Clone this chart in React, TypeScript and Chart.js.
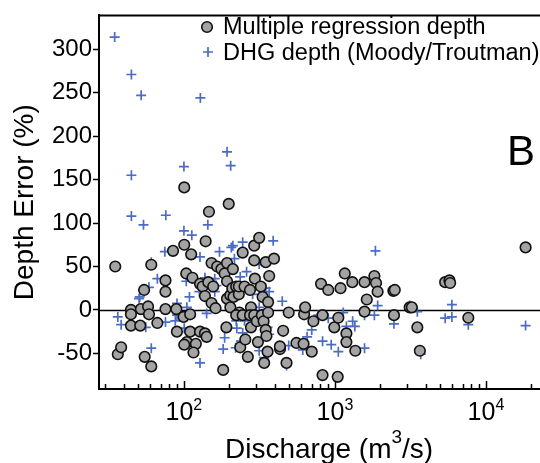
import React, { useEffect, useRef } from 'react';
import { Chart, registerables } from 'chart.js';

Chart.register(...registerables);

// ---- Data ----
const regDischarge = [
  35.1, 36.5, 38.4, 44.6, 44.6, 44.6, 51.9, 51.4, 54.5, 57.9, 58.7, 55, 60.8, 60.8, 66.7,
  75.5, 75.5, 75.5, 84.7, 89.1, 89.9, 100.5, 103.6, 100.5, 111.7, 113.9, 99.5, 110, 110, 104.6,
  100.5, 120, 115.7, 127.8, 133, 137.8, 127.8, 137.8, 141.4, 146.5, 139.3, 145, 156.3, 152.4, 152.4,
  162, 166, 177, 186, 193, 193, 198, 193, 203, 203, 191, 182, 211, 209, 213,
  222, 231, 231, 233, 222, 236, 245, 252, 255, 245, 265, 274, 278, 274, 278,
  292, 292, 295, 292, 304, 309, 315, 323, 332, 328, 337, 340, 348, 367, 361,
  361, 348, 352, 358, 395, 433, 432, 454, 478, 494, 556, 620, 625, 635, 702, 720,
  809, 828, 903, 828, 990, 1053, 1043, 1089, 1162, 1191, 1191, 1303, 1364, 1570, 1570,
  1625, 1825, 1872, 1917, 2437, 2490, 2460, 3125, 3230, 3512, 3650, 5368, 5730, 5790, 7640, 18300,
];
const regError = [
  50, -51, -43, 0, -5, -18, 1, -18, 23, 4, -5, -54, -65, 52, -15,
  34, 21, 1, 68, 1, -25, 75, 42, 141, 64, 37, -8, -5, -25, -37,
  -40, -39, -49, 30, 27, 16, -25, -27, -31, 113, 79, 32, 27, 54, 8,
  2, 50, 47, 42, 54, 33, 122, 13, 17, 3, -20, -69, 47, 25, 15,
  27, 18, 27, -3, -6, -43, 66, 27, -34, -6, -54, 23, 3, -6, -20,
  74, 57, 36, -6, -13, -37, 83, 27, 15, -6, -13, -61, 55, 39, 9,
  -3, -23, -30, -48, 59, -45, -42, -24, -61, -3, -38, -39, -5, 3, -48, -13,
  30, -6, 23, -75, -20, -9, -77, 25, 42, -27, -37, 32, -47, 32, -2,
  12, 39, 31, 21, 22, 23, -6, 3, 3, -20, -47, 32, 34, 31, -9, 72,
];

const dhgDischarge = [
  34.8, 44.9, 52.1, 128.5, 44.9, 100, 193, 204, 44.9, 54, 75.9, 100, 144, 112.8, 74.8,
  60.8, 66.7, 58.7, 51, 50.5, 36.5, 38.4, 55.9, 60.8, 75.5, 90, 87.7, 100.5, 103.6, 108.9,
  104.6, 100.5, 127.8, 126.6, 141.4, 137.8, 127.8, 172, 206, 211, 216, 245, 260, 236, 160,
  160, 164, 201, 222, 224, 252, 245, 252, 186, 182, 220, 239, 285, 315, 348,
  367, 315, 358, 367, 390, 315, 340, 448, 494, 478, 612, 654, 702, 285, 90,
  1854, 1918, 1825, 2460, 1570, 1570, 1310, 1355, 1191, 1135, 1053, 945, 828, 903, 778,
  759, 3125, 3512, 3700, 5950, 5368, 5950, 7640, 18300,
];
const dhgError = [
  314, 271, 247, 244, 155, 165, 182, 166, 108, 98, 109, 91, 98, 86, 67,
  55, 36, 26, 15, 13, -8, -17, -20, -44, -14, 7.5, -12.5, -21, 33, 15,
  3, -7.6, 61, 21, -4, 37, -61, 67, 72, 74, 59, 78, 44, 38, 36,
  21, 28, 6, -12.5, -21, -12.5, -26.5, -38, -32, -45, -43.5, -36, 18, 53, 25,
  21, 3, -20, -28, 79.5, -47, -55, 10, -41, -64, -46, -31, -23, -2, -6,
  68, 5, -6, -16, -6, -44, -13, -19, -19, -3, -48, -40, -36, -9.5, -6,
  -10, 5, -2, -51, 6, -9.5, -8, -17, -18,
];

const seriesLabels = ['Multiple regression depth', 'DHG depth (Moody/Troutman)'];
const panelLetter = 'B';
const yTickValues = [-50, 0, 50, 100, 150, 200, 250, 300];
const xMajorTickValues = [100, 1000, 10000];
const xMajorTickExponents = ['2', '3', '4'];
const xMinorTickValues = [
  30, 40, 50, 60, 70, 80, 90,
  200, 300, 400, 500, 600, 700, 800, 900,
  2000, 3000, 4000, 5000, 6000, 7000, 8000, 9000,
  20000, 30000,
];
const xTitleParts = ['Discharge (m', '3', '/s)'];
const yTitle = 'Depth Error (%)';

const FONT = '"Liberation Sans", Arial, Helvetica, sans-serif';
const CIRCLE_FILL = '#a3a3a3';
const CIRCLE_EDGE = '#111111';
const PLUS_COLOR = '#4a6cc4';

const decorPlugin = {
  id: 'decor',
  beforeDatasetsDraw(chart: any) {
    const { ctx, chartArea, scales } = chart;
    const xs = scales.x;
    const ys = scales.y;
    ctx.save();
    ctx.strokeStyle = '#000';
    // zero line
    const y0 = Math.round(ys.getPixelForValue(0)) + 0.5;
    ctx.lineWidth = 1.5;
    ctx.beginPath();
    ctx.moveTo(chartArea.left, y0);
    ctx.lineTo(chartArea.right, y0);
    ctx.stroke();
    // top frame line
    ctx.lineWidth = 2;
    ctx.beginPath();
    ctx.moveTo(chartArea.left - 1, chartArea.top);
    ctx.lineTo(chartArea.right, chartArea.top);
    ctx.stroke();
    // inward x ticks
    ctx.lineWidth = 1.5;
    const b = chartArea.bottom;
    xMinorTickValues.forEach((v) => {
      const px = Math.round(xs.getPixelForValue(v)) + 0.5;
      ctx.beginPath();
      ctx.moveTo(px, b);
      ctx.lineTo(px, b - 5);
      ctx.stroke();
    });
    xMajorTickValues.forEach((v) => {
      const px = Math.round(xs.getPixelForValue(v)) + 0.5;
      ctx.beginPath();
      ctx.moveTo(px, b);
      ctx.lineTo(px, b - 8);
      ctx.stroke();
    });
    ctx.restore();
  },
  afterDraw(chart: any) {
    const { ctx, chartArea, scales } = chart;
    const xs = scales.x;
    ctx.save();
    ctx.fillStyle = '#000';
    ctx.textBaseline = 'alphabetic';
    ctx.textAlign = 'left';
    // x tick labels 10^n
    xMajorTickValues.forEach((v, i) => {
      const px = xs.getPixelForValue(v);
      ctx.font = `25px ${FONT}`;
      const w1 = ctx.measureText('10').width;
      ctx.font = `16px ${FONT}`;
      const w2 = ctx.measureText(xMajorTickExponents[i]).width;
      const start = px - (w1 + w2) / 2;
      ctx.font = `25px ${FONT}`;
      ctx.fillText('10', start, 420);
      ctx.font = `16px ${FONT}`;
      ctx.fillText(xMajorTickExponents[i], start + w1, 410);
    });
    // x title with superscript
    ctx.font = `28px ${FONT}`;
    const a = ctx.measureText(xTitleParts[0]).width;
    const c = ctx.measureText(xTitleParts[2]).width;
    ctx.font = `19px ${FONT}`;
    const s = ctx.measureText(xTitleParts[1]).width;
    const cx = (chartArea.left + chartArea.right) / 2;
    let tx = cx - (a + s + c) / 2;
    ctx.font = `28px ${FONT}`;
    ctx.fillText(xTitleParts[0], tx, 458);
    tx += a;
    ctx.font = `19px ${FONT}`;
    ctx.fillText(xTitleParts[1], tx, 443);
    tx += s;
    ctx.font = `28px ${FONT}`;
    ctx.fillText(xTitleParts[2], tx, 458);

    // legend
    const ds = chart.data.datasets;
    ctx.font = `23.5px ${FONT}`;
    // circle marker
    ctx.beginPath();
    ctx.arc(207, 27, 5.3, 0, Math.PI * 2);
    ctx.fillStyle = ds[0].backgroundColor;
    ctx.fill();
    ctx.lineWidth = 1.6;
    ctx.strokeStyle = ds[0].borderColor;
    ctx.stroke();
    ctx.fillStyle = '#000';
    ctx.fillText(ds[0].label, 223, 34);
    // plus marker
    ctx.strokeStyle = ds[1].borderColor;
    ctx.lineWidth = 1.7;
    ctx.beginPath();
    ctx.moveTo(203, 52);
    ctx.lineTo(213, 52);
    ctx.moveTo(208, 47);
    ctx.lineTo(208, 57);
    ctx.stroke();
    ctx.fillStyle = '#000';
    ctx.fillText(ds[1].label, 223, 60);

    // panel letter
    ctx.font = `42px ${FONT}`;
    ctx.fillText(panelLetter, 507, 165);
    ctx.restore();
  },
};

export default function App() {
  const canvasRef = useRef<HTMLCanvasElement | null>(null);

  useEffect(() => {
    const canvas = canvasRef.current;
    if (!canvas) return;
    const regPoints = regDischarge.map((x, i) => ({ x, y: regError[i] }));
    const dhgPoints = dhgDischarge.map((x, i) => ({ x, y: dhgError[i] }));

    const chart = new Chart(canvas, {
      type: 'scatter',
      data: {
        datasets: [
          {
            label: seriesLabels[0],
            data: regPoints,
            pointStyle: 'circle',
            pointRadius: 5.3,
            pointHoverRadius: 5.3,
            backgroundColor: CIRCLE_FILL,
            borderColor: CIRCLE_EDGE,
            borderWidth: 1.6,
          },
          {
            label: seriesLabels[1],
            data: dhgPoints,
            pointStyle: 'cross',
            pointRadius: 5,
            pointHoverRadius: 5,
            backgroundColor: PLUS_COLOR,
            borderColor: PLUS_COLOR,
            borderWidth: 1.7,
          },
        ],
      },
      options: {
        animation: false,
        responsive: false,
        devicePixelRatio: 1,
        events: [],
        layout: { padding: { top: 8, left: 0, right: 0, bottom: 0 } },
        plugins: {
          legend: { display: false },
          tooltip: { enabled: false },
        },
        scales: {
          x: {
            type: 'logarithmic',
            min: 27.4,
            max: 30500,
            grid: { display: true, drawOnChartArea: false, drawTicks: false },
            border: { display: true, color: '#000', width: 2 },
            ticks: { display: false },
            title: { display: false },
            afterFit: (scale: any) => {
              scale.height = 74;
            },
          },
          y: {
            type: 'linear',
            min: -91,
            max: 339,
            afterBuildTicks: (scale: any) => {
              scale.ticks = yTickValues.map((v) => ({ value: v }));
            },
            grid: {
              display: true,
              drawOnChartArea: false,
              drawTicks: true,
              tickLength: 6,
              tickWidth: 1.5,
              tickColor: '#000',
            },
            border: { display: true, color: '#000', width: 2 },
            ticks: {
              color: '#000',
              padding: 1,
              font: { family: FONT, size: 24 },
              callback: (v: any) => String(v),
            },
            title: {
              display: true,
              text: yTitle,
              color: '#000',
              font: { family: FONT, size: 28 },
              padding: { top: 8, bottom: 0 },
            },
            afterFit: (scale: any) => {
              scale.width = 99;
            },
          },
        },
      },
      plugins: [decorPlugin],
    });
    return () => chart.destroy();
  }, []);

  return (
    <div
      style={{
        position: 'fixed',
        left: 0,
        top: 0,
        width: 540,
        height: 463,
        overflow: 'hidden',
        background: '#fff',
      }}
    >
      <canvas
        ref={canvasRef}
        width={566}
        height={463}
        style={{ display: 'block', width: 566, height: 463 }}
      />
    </div>
  );
}
